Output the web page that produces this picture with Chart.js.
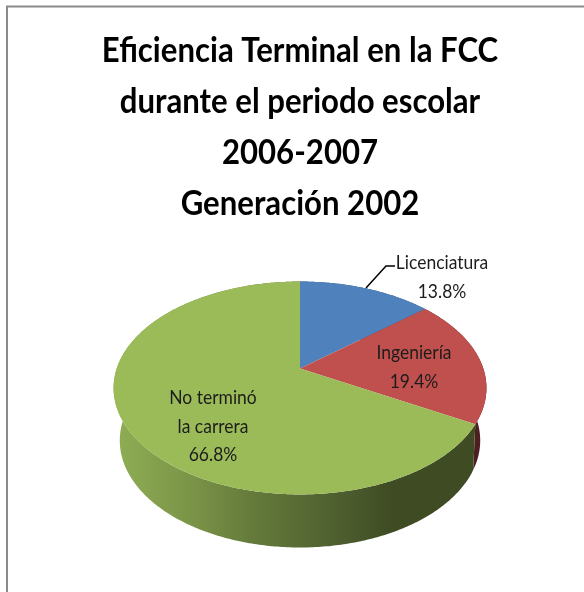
<!DOCTYPE html>
<html><head><meta charset="utf-8">
<script src="https://cdn.jsdelivr.net/npm/chart.js@4"></script>
<style>html,body{margin:0;padding:0;background:#fff}#w{position:relative;width:584px;height:592px}</style>
</head><body><div id="w"><canvas id="c" width="584" height="592"></canvas></div>
<script>
const titleLines = ['Eficiencia Terminal en la FCC','durante el periodo escolar','2006-2007','Generación 2002'];
const categories = ['Licenciatura','Ingeniería','No terminó la carrera'];
const labelLines = [['Licenciatura'],['Ingeniería'],['No terminó','la carrera']];
const values = [13.8,19.4,66.8];
const topColors = ['#4f81bd','#c0504d','#9bbb59'];
const wallStops = [
  [[0,'#3a5478'],[1,'#3a5478']],
  [[0,'#4d1f20'],[1,'#4d1f20']],
  [[0,'#8fae54'],[0.2,'#7b9548'],[0.365,'#657b3b'],[0.63,'#4b5b2d'],[0.75,'#3f4b23'],[1,'#3f4b23']]
];
const labelSpots = [{x:442,y:263},{x:414,y:353},{x:213,y:398}];

// Perspective of the flat pie disc (top rim) and of its lower rim
const BASE_R = 160;
const rimTop = {R:183.3,B:102.9,c:-0.183,dy:-21.5};
const rimLow = {R:174.5,B:100.3,c:-0.25,dy:23.75};
function project(el,rim,a){
  const k = el.outerRadius/BASE_R, sx=Math.cos(a), sy=Math.sin(a), d=1+rim.c*sy;
  return {x:el.x+k*rim.R*sx/d, y:el.y+k*(rim.dy+rim.B*sy/d)};
}
function rimAngles(el){
  const n=Math.max(2,Math.ceil((el.endAngle-el.startAngle)*90)),out=[];
  for(let i=0;i<=n;i++)out.push(el.startAngle+(el.endAngle-el.startAngle)*i/n);
  return out;
}
Chart.ArcElement.prototype.draw=function(ctx){
  const centre={x:this.x,y:this.y+rimTop.dy*this.outerRadius/BASE_R};
  ctx.save();ctx.beginPath();ctx.moveTo(centre.x,centre.y);
  rimAngles(this).forEach(a=>{const p=project(this,rimTop,a);ctx.lineTo(p.x,p.y);});
  ctx.closePath();ctx.fillStyle=this.options.backgroundColor;ctx.fill();ctx.restore();
};
const wallPlugin={id:'wall',beforeDatasetsDraw(chart){
  const ctx=chart.ctx;
  chart.getDatasetMeta(0).data.forEach((el,i)=>{
    const as=rimAngles(el);
    const g=ctx.createLinearGradient(114,0,487,0);
    wallStops[i].forEach(s=>g.addColorStop(s[0],s[1]));
    ctx.beginPath();
    as.forEach((a,j)=>{const p=project(el,rimTop,a);j?ctx.lineTo(p.x,p.y):ctx.moveTo(p.x,p.y);});
    as.slice().reverse().forEach(a=>{const p=project(el,rimLow,a);ctx.lineTo(p.x,p.y);});
    ctx.closePath();ctx.fillStyle=g;ctx.fill();
  });
}};
const framePlugin={id:'frame',beforeDraw(chart){
  const ctx=chart.ctx;ctx.save();ctx.strokeStyle='#8a8a8a';ctx.lineWidth=2;
  ctx.beginPath();ctx.moveTo(7,592);ctx.lineTo(7,6.5);ctx.lineTo(584,6.5);ctx.stroke();ctx.restore();
}};
const titleSqueeze=0.89;
const squeezePlugin={id:'squeeze',afterInit(chart){
  const t=chart.titleBlock,orig=t.draw;
  t.draw=function(...args){
    const ctx=chart.ctx;ctx.save();ctx.translate(300,0);ctx.scale(titleSqueeze,1);ctx.translate(-300,0);
    orig.apply(this,args);ctx.restore();
  };
}};
const labelPlugin={id:'sliceLabels',afterDatasetsDraw(chart){
  const ctx=chart.ctx;ctx.save();
  ctx.strokeStyle='#000';ctx.lineWidth=1.5;ctx.beginPath();
  ctx.moveTo(366,288);ctx.lineTo(386,266);ctx.lineTo(395,266);ctx.stroke();
  ctx.font='19px Lato';ctx.fillStyle='#1c1c1c';ctx.textAlign='center';ctx.textBaseline='middle';
  labelLines.forEach((ls,i)=>{
    const rows=ls.concat([values[i].toFixed(1)+'%']);
    rows.forEach((t,j)=>{
      ctx.save();ctx.translate(labelSpots[i].x,labelSpots[i].y+j*28.5);ctx.scale(0.92,1);
      ctx.fillText(t,0,0);ctx.restore();
    });
  });
  ctx.restore();
}};
new Chart(document.getElementById('c'),{
  type:'pie',
  data:{labels:categories,datasets:[{data:values,backgroundColor:topColors,borderWidth:0}]},
  plugins:[framePlugin,wallPlugin,labelPlugin,squeezePlugin],
  options:{
    responsive:false,animation:false,
    layout:{padding:{top:25,left:60,right:44,bottom:42}},
    plugins:{
      legend:{display:false},tooltip:{enabled:false},
      title:{display:true,text:titleLines,color:'#000',font:{family:'Lato',size:35,weight:'bold',lineHeight:51/35},padding:{top:0,bottom:1}}
    }
  }
});
</script></body></html>
